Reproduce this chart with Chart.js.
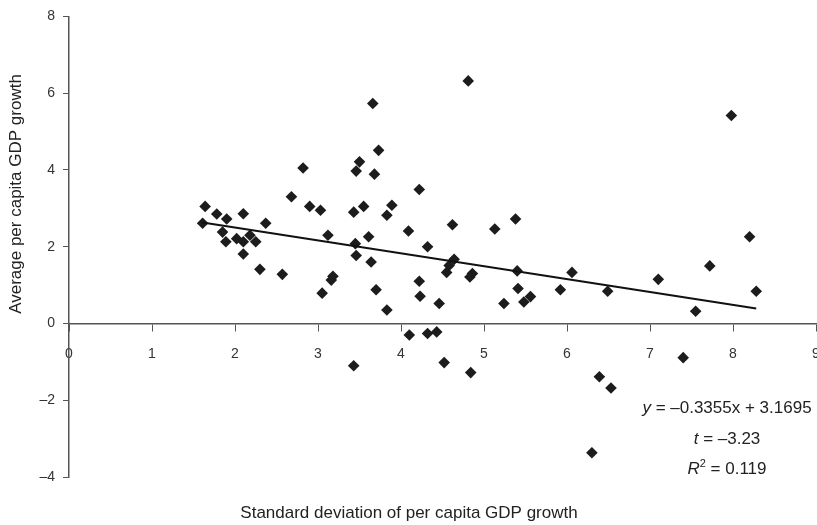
<!DOCTYPE html>
<html>
<head>
<meta charset="utf-8">
<script src="https://cdn.jsdelivr.net/npm/chart.js@4.4.1/dist/chart.umd.min.js"></script>
<style>
  html,body{margin:0;padding:0;background:#fff;}
  #wrap{width:817px;height:525px;}
</style>
</head>
<body>
<div id="wrap"><canvas id="mainChart" width="817" height="525"></canvas></div>
<script>
// standard deviation of per capita GDP growth (x) / average per capita GDP growth (y)
const sdGrowth = [1.64,1.61,1.78,1.90,2.10,1.85,1.89,2.02,2.10,2.18,2.25,2.37,2.10,2.30,2.57,2.68,2.90,3.03,3.12,3.05,
  3.18,3.16,2.82,3.66,3.73,3.50,3.46,3.68,3.43,3.55,3.89,3.83,3.61,3.45,3.46,3.64,4.22,4.09,4.32,4.62,
  4.81,5.13,5.38,4.64,4.58,4.55,4.86,4.83,5.40,3.70,4.22,4.23,3.83,4.46,4.10,4.32,4.43,3.43,4.52,4.84,
  5.41,5.24,5.48,5.56,5.92,6.06,6.49,7.10,7.72,7.98,8.20,8.28,7.55,7.40,6.39,6.53,6.30];
const avgGrowth = [3.05,2.61,2.85,2.72,2.86,2.38,2.13,2.21,2.13,2.30,2.13,2.61,1.81,1.41,1.28,3.30,3.05,2.95,2.30,0.79,
  1.23,1.13,4.05,5.73,4.51,4.21,3.97,3.89,2.90,3.05,3.08,2.82,2.26,2.08,1.77,1.60,3.49,2.41,2.00,2.57,
  6.32,2.46,2.72,1.67,1.51,1.33,1.30,1.21,1.37,0.88,1.10,0.71,0.35,0.52,-0.30,-0.26,-0.22,-1.10,-1.02,-1.28,
  0.91,0.52,0.56,0.70,0.88,1.33,0.84,1.15,1.50,5.42,2.26,0.84,0.32,-0.89,-1.39,-1.68,-3.37];

const xTicks = [0,1,2,3,4,5,6,7,8,9];
const xTickLabels = ['0','1','2','3','4','5','6','7','8','9'];
const yTicks = [-4,-2,0,2,4,6,8];
const yTickLabels = ['\u20134','\u20132','0','2','4','6','8'];

// fitted regression line
const slope = -0.3355, intercept = 3.1695;
const fitX = [Math.min(...sdGrowth), Math.max(...sdGrowth)];
const fitPts = fitX.map(x => ({x, y: slope * x + intercept}));

const xTitle = 'Standard deviation of per capita GDP growth';
const yTitle = 'Average per capita GDP growth';
const statLines = [
  [{t:'y', i:true}, {t:' = \u20130.3355x + 3.1695'}],
  [{t:'t', i:true}, {t:' = \u20133.23'}],
  [{t:'R', i:true}, {t:'2', sup:true}, {t:' = 0.119'}]
];

const FONT = '"Liberation Sans", Arial, sans-serif';
const ink = '#222';
const axisCol = '#555';

const notes = {
  id:'notes',
  afterDraw(chart){
    const c = chart.ctx;
    c.save();
    c.fillStyle = ink;
    c.textBaseline = 'middle';
    c.textAlign = 'center';
    c.font = '17px ' + FONT;
    c.fillText(xTitle, 409, 513);
    c.save();
    c.translate(16, 194);
    c.rotate(-Math.PI/2);
    c.fillText(yTitle, 0, 0);
    c.restore();

    c.textAlign = 'left';
    const fontFor = r => (r.i ? 'italic ' : '') + (r.sup ? '11px ' : '17px ') + FONT;
    const ys = [408, 439, 469];
    statLines.forEach((runs, k) => {
      let w = 0;
      runs.forEach(r => { c.font = fontFor(r); w += c.measureText(r.t).width; });
      let x = 727 - w/2;
      runs.forEach(r => {
        c.font = fontFor(r);
        c.fillText(r.t, x, ys[k] + (r.sup ? -5 : 0));
        x += c.measureText(r.t).width;
      });
    });
    c.restore();
  }
};

new Chart(document.getElementById('mainChart'), {
  type:'scatter',
  data:{
    datasets:[
      {
        type:'line', data:fitPts, borderColor:'#111', borderWidth:2,
        pointRadius:0, fill:false, tension:0, order:0
      },
      {
        data: sdGrowth.map((x, i) => ({x, y: avgGrowth[i]})),
        pointStyle:'rectRot', pointRadius:5.8, pointHoverRadius:5.8,
        backgroundColor:'#1c1c1c', borderColor:'#1c1c1c', borderWidth:0, order:1
      }
    ]
  },
  options:{
    responsive:false,
    animation:false,
    layout:{autoPadding:false, padding:{left:0, right:1, top:16, bottom:48}},
    plugins:{legend:{display:false}, tooltip:{enabled:false}},
    scales:{
      x:{
        type:'linear', min:0, max:9,
        position:{y:0},
        afterBuildTicks: s => { s.ticks = xTicks.map(v => ({value:v})); },
        afterFit: s => { s.paddingLeft = 0; s.paddingRight = 0; },
        grid:{drawOnChartArea:false, tickLength:7, color:axisCol, tickColor:axisCol},
        border:{color:axisCol, width:1.5},
        ticks:{color:'#333', font:{family:FONT, size:14}, padding:15, maxRotation:0,
          callback: v => xTickLabels[xTicks.indexOf(v)] ?? ''}
      },
      y:{
        type:'linear', min:-4, max:8,
        afterBuildTicks: s => { s.ticks = yTicks.map(v => ({value:v})); },
        afterFit: s => { s.width = 69; },
        grid:{drawOnChartArea:false, tickLength:6, color:axisCol, tickColor:axisCol},
        border:{color:axisCol, width:1.5},
        ticks:{color:'#333', font:{family:FONT, size:14}, padding:8,
          callback: v => yTickLabels[yTicks.indexOf(v)] ?? ''}
      }
    }
  },
  plugins:[notes]
});
</script>
</body>
</html>
